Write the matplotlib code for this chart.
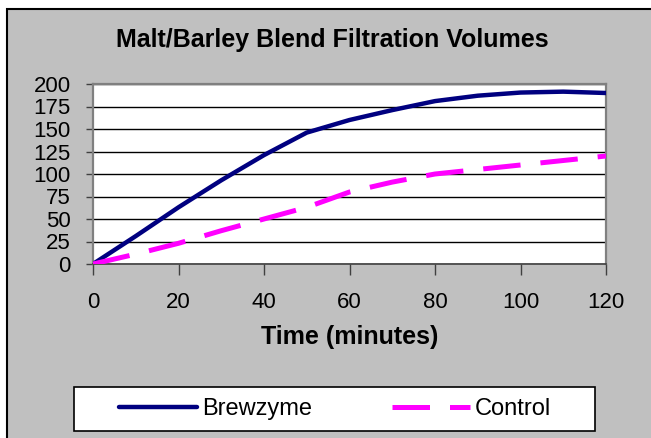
import matplotlib.pyplot as plt
from matplotlib.patches import Rectangle

plt.rcParams["font.family"] = ["Liberation Sans", "DejaVu Sans"]

minutes = [0, 10, 20, 30, 40, 50, 60, 70, 80, 90, 100, 110, 120]
brewzyme = [0, 31, 63, 93, 121, 146, 160, 171, 181, 187, 190.5, 191.5, 190]
control = [0, 11, 23, 37, 50, 63, 80, 91, 100, 105, 110, 115, 120]

x_ticks = [0, 20, 40, 60, 80, 100, 120]
y_ticks = [0, 25, 50, 75, 100, 125, 150, 175, 200]

W, H = 651, 438


def fx(px):
    return px / W


def fy(py):
    return 1 - py / H


fig = plt.figure(figsize=(W / 100, H / 100), dpi=100, facecolor="white")

# gray chart area with black border on top/left (runs off the image at right/bottom)
fig.patches.append(Rectangle((fx(7), -0.2), 1.2, fy(8.5) + 0.2, transform=fig.transFigure,
                             facecolor="#C0C0C0", edgecolor="black", linewidth=1.5, zorder=-2))

ax = fig.add_axes([fx(93), fy(264), fx(606) - fx(93), fy(84) - fy(264)])
ax.set_zorder(2)
ax.set_facecolor("white")

ax.plot(minutes, brewzyme, color="#000080", linewidth=3.2, solid_capstyle="round",
        solid_joinstyle="round", label="Brewzyme", zorder=3)
ax.plot(minutes, control, color="#FF00FF", linewidth=3.6, dashes=(7.5, 4),
        dash_capstyle="butt", label="Control", zorder=3)

ax.set_xlim(0, 120)
ax.set_ylim(0, 200)
ax.set_xticks(x_ticks)
ax.set_yticks(y_ticks)
ax.yaxis.grid(True, color="black", linewidth=1.0)
ax.set_axisbelow(True)

for side in ["top", "right", "left"]:
    ax.spines[side].set_color("#808080")
    ax.spines[side].set_linewidth(1.6)
ax.spines["bottom"].set_color("#404040")
ax.spines["bottom"].set_linewidth(1.2)

ax.tick_params(axis="y", direction="out", length=5, width=1, color="#404040",
               labelsize=16, pad=11)
ax.tick_params(axis="x", direction="out", length=8, width=1, color="#404040",
               labelsize=16, pad=12)

ax.set_xlabel("Time (minutes)", fontsize=18, fontweight="bold", labelpad=9)

fig.text(fx(332), fy(47), "Malt/Barley Blend Filtration Volumes", fontsize=18,
         fontweight="bold", ha="center", va="baseline")

# legend box
fig.patches.append(Rectangle((fx(74), fy(431)), fx(595) - fx(74), fy(387) - fy(431),
                             transform=fig.transFigure, facecolor="white",
                             edgecolor="black", linewidth=1.2, zorder=-1))
handles, labels = ax.get_legend_handles_labels()
fig.legend(handles, labels, loc="center", bbox_to_anchor=(fx(335), fy(409)), ncol=2,
           frameon=False, fontsize=17, handlelength=3.3, handletextpad=0.2,
           columnspacing=3.4, borderpad=0.2)

fig.savefig("out.png", dpi=100)
